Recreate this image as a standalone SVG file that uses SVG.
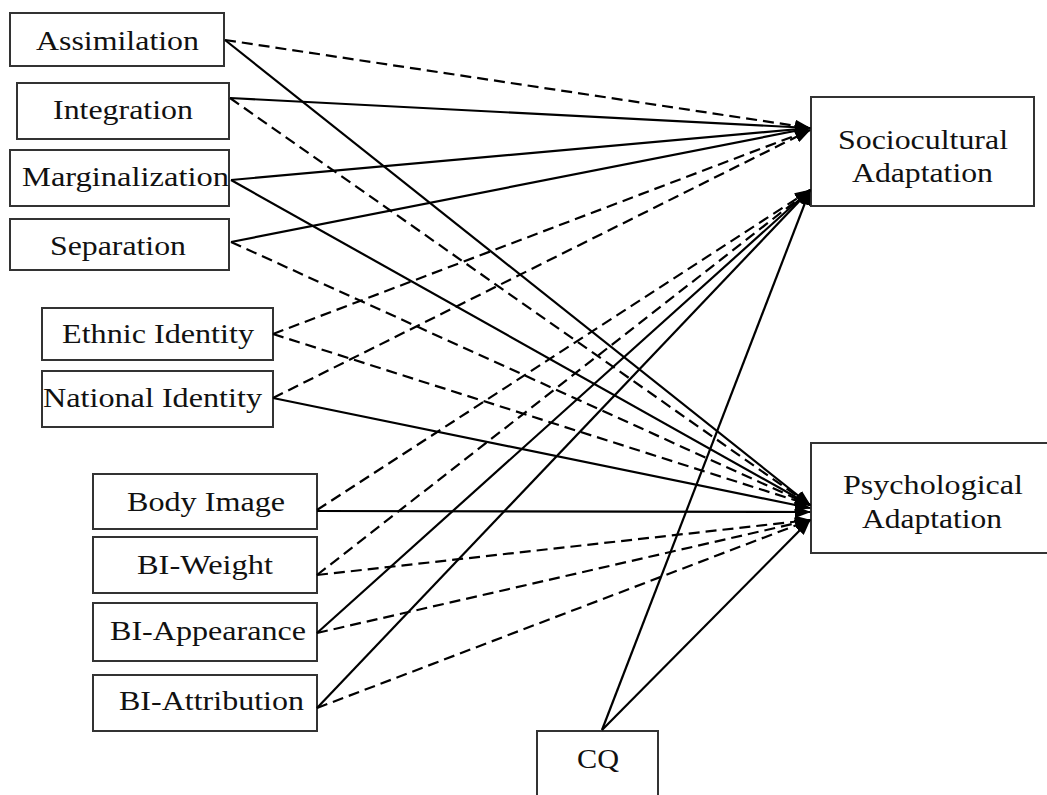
<svg xmlns="http://www.w3.org/2000/svg" width="1047" height="795" viewBox="0 0 1047 795">
  <defs>
    <marker id="arrow" markerUnits="userSpaceOnUse" markerWidth="16" markerHeight="12" refX="15" refY="6" orient="auto">
      <path d="M0,0 L16,6 L0,12 Z" fill="#000"/>
    </marker>
    <style>
      .box { fill: #fff; stroke: #333; stroke-width: 2; }
      .lbl { font-family: "Liberation Serif", "Times New Roman", serif; font-size: 27px; fill: #111; text-anchor: middle; }
      .link { fill: none; stroke: #000; stroke-width: 2.2; marker-end: url(#arrow); }
      .dash { stroke-dasharray: 11 6; }
    </style>
  </defs>
  <rect width="1047" height="795" fill="#fff"/>

  <!-- predictor and outcome boxes -->
  <g id="assimilation">
    <rect class="box" x="10" y="13" width="214" height="53"/>
    <text class="lbl" x="117.5" y="50" textLength="163" lengthAdjust="spacingAndGlyphs">Assimilation</text>
  </g>
  <g id="integration">
    <rect class="box" x="17" y="83" width="212" height="56"/>
    <text class="lbl" x="123" y="119" textLength="140" lengthAdjust="spacingAndGlyphs">Integration</text>
  </g>
  <g id="marginalization">
    <rect class="box" x="10" y="150" width="219" height="56"/>
    <text class="lbl" x="125.5" y="186" textLength="207" lengthAdjust="spacingAndGlyphs">Marginalization</text>
  </g>
  <g id="separation">
    <rect class="box" x="10" y="219" width="219" height="51"/>
    <text class="lbl" x="118" y="255" textLength="136" lengthAdjust="spacingAndGlyphs">Separation</text>
  </g>
  <g id="ethnic-identity">
    <rect class="box" x="42" y="308" width="231" height="52"/>
    <text class="lbl" x="158" y="343" textLength="192" lengthAdjust="spacingAndGlyphs">Ethnic Identity</text>
  </g>
  <g id="national-identity">
    <rect class="box" x="42" y="371" width="231" height="56"/>
    <text class="lbl" x="152.5" y="407" textLength="219" lengthAdjust="spacingAndGlyphs">National Identity</text>
  </g>
  <g id="body-image">
    <rect class="box" x="93" y="474" width="224" height="55"/>
    <text class="lbl" x="206" y="511" textLength="158" lengthAdjust="spacingAndGlyphs">Body Image</text>
  </g>
  <g id="bi-weight">
    <rect class="box" x="93" y="537" width="224" height="56"/>
    <text class="lbl" x="205" y="574" textLength="136" lengthAdjust="spacingAndGlyphs">BI-Weight</text>
  </g>
  <g id="bi-appearance">
    <rect class="box" x="93" y="603" width="224" height="58"/>
    <text class="lbl" x="208" y="640" textLength="196" lengthAdjust="spacingAndGlyphs">BI-Appearance</text>
  </g>
  <g id="bi-attribution">
    <rect class="box" x="93" y="675" width="224" height="56"/>
    <text class="lbl" x="211.5" y="710" textLength="185" lengthAdjust="spacingAndGlyphs">BI-Attribution</text>
  </g>
  <g id="sociocultural-adaptation">
    <rect class="box" x="811" y="97" width="223" height="109"/>
    <text class="lbl" x="923" y="149" textLength="170" lengthAdjust="spacingAndGlyphs">Sociocultural</text>
    <text class="lbl" x="922.5" y="182" textLength="141" lengthAdjust="spacingAndGlyphs">Adaptation</text>
  </g>
  <g id="psychological-adaptation">
    <rect class="box" x="811" y="443" width="250" height="110"/>
    <text class="lbl" x="933" y="494" textLength="180" lengthAdjust="spacingAndGlyphs">Psychological</text>
    <text class="lbl" x="932" y="528" textLength="140" lengthAdjust="spacingAndGlyphs">Adaptation</text>
  </g>
  <g id="cq">
    <rect class="box" x="537" y="731" width="121" height="80"/>
    <text class="lbl" x="598" y="768" textLength="42" lengthAdjust="spacingAndGlyphs">CQ</text>
  </g>

  <!-- paths: solid and dashed -->
  <g id="connectors">
    <!-- to Sociocultural Adaptation -->
    <line class="link dash" x1="225" y1="40" x2="810" y2="128"/>
    <line class="link" x1="230" y1="98" x2="810" y2="128"/>
    <line class="link" x1="231" y1="180" x2="810" y2="128"/>
    <line class="link" x1="231" y1="242" x2="810" y2="128"/>
    <line class="link dash" x1="273" y1="334" x2="810" y2="130"/>
    <line class="link dash" x1="273" y1="398" x2="810" y2="130"/>
    <line class="link dash" x1="317" y1="510" x2="810" y2="190"/>
    <line class="link dash" x1="317" y1="575" x2="810" y2="190"/>
    <line class="link" x1="317" y1="633" x2="810" y2="190"/>
    <line class="link" x1="317" y1="708" x2="810" y2="190"/>
    <line class="link" x1="602" y1="730" x2="810" y2="190"/>
    <!-- to Psychological Adaptation -->
    <line class="link" x1="225" y1="40" x2="810" y2="505"/>
    <line class="link dash" x1="230" y1="98" x2="810" y2="505"/>
    <line class="link" x1="231" y1="180" x2="810" y2="505"/>
    <line class="link dash" x1="231" y1="242" x2="810" y2="505"/>
    <line class="link dash" x1="273" y1="334" x2="810" y2="505"/>
    <line class="link" x1="273" y1="398" x2="810" y2="508"/>
    <line class="link" x1="317" y1="511" x2="810" y2="512"/>
    <line class="link dash" x1="317" y1="575" x2="810" y2="520"/>
    <line class="link dash" x1="317" y1="633" x2="810" y2="520"/>
    <line class="link dash" x1="317" y1="708" x2="810" y2="520"/>
    <line class="link" x1="602" y1="730" x2="810" y2="520"/>
  </g>
</svg>
